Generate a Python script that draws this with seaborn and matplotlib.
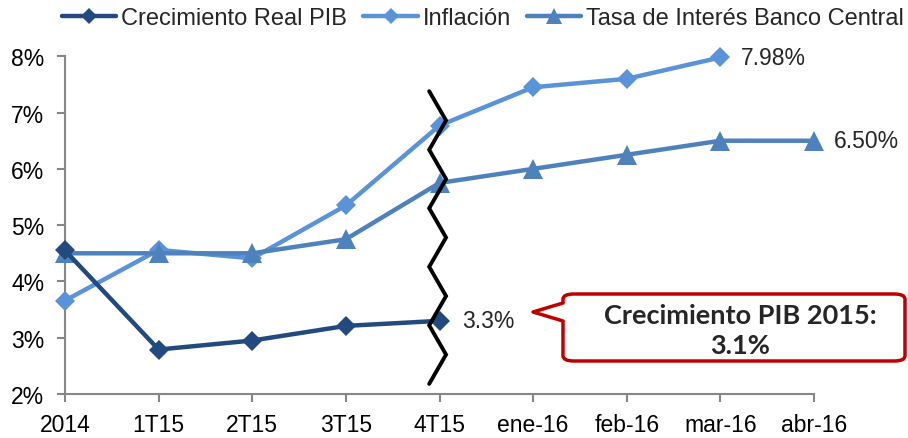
import numpy as np
import pandas as pd
import matplotlib
matplotlib.use("Agg")
import matplotlib.pyplot as plt
import seaborn as sns
from matplotlib.patches import FancyBboxPatch, Polygon
from matplotlib.lines import Line2D

categories = ["2014", "1T15", "2T15", "3T15", "4T15", "ene-16", "feb-16", "mar-16", "abr-16"]
pib = [4.55, 2.79, 2.95, 3.21, 3.30]
inflacion = [3.66, 4.56, 4.41, 5.35, 6.77, 7.45, 7.60, 7.98]
tasa = [4.50, 4.50, 4.50, 4.75, 5.75, 6.00, 6.25, 6.50, 6.50]
y_ticks = [2, 3, 4, 5, 6, 7, 8]
y_tick_labels = ["2%", "3%", "4%", "5%", "6%", "7%", "8%"]
series_names = ["Crecimiento Real PIB", "Inflación", "Tasa de Interés Banco Central"]
callout_text = "Crecimiento PIB 2015:\n3.1%"

sns.set_style("white", {"xtick.bottom": True, "ytick.left": True})
plt.rcParams["font.family"] = ["Liberation Sans", "DejaVu Sans"]

W, H = 908, 439
fig = plt.figure(figsize=(W / 100, H / 100), dpi=100)
ax = fig.add_axes([65 / W, 1 - 395 / H, (814 - 65) / W, (395 - 57.3) / H])

c_pib = "#224a7e"
c_inf = "#5a93d8"
c_tasa = "#4f81bd"

sns.lineplot(x=np.arange(len(inflacion)), y=inflacion, ax=ax, color=c_inf, lw=3.2,
             marker="D", markersize=10, markeredgewidth=0, zorder=3, clip_on=False, legend=False)
sns.lineplot(x=np.arange(len(tasa)), y=tasa, ax=ax, color=c_tasa, lw=3.2,
             marker="^", markersize=14, markeredgewidth=0, zorder=4, clip_on=False, legend=False)
sns.lineplot(x=np.arange(len(pib)), y=pib, ax=ax, color=c_pib, lw=3.2,
             marker="D", markersize=10, markeredgewidth=0, zorder=5, clip_on=False, legend=False)

ax.set_xlim(0, len(categories) - 1)
ax.set_ylim(2, 8)
ax.set_xticks(np.arange(len(categories)))
ax.set_xticklabels(categories)
ax.set_yticks(y_ticks)
ax.set_yticklabels(y_tick_labels)
ax.tick_params(axis="both", labelsize=16.5, colors="#868686", labelcolor="black",
               length=6, width=1.5, direction="out", left=True, bottom=True)
ax.tick_params(axis="x", pad=8)
ax.tick_params(axis="y", pad=9)
for s in ["top", "right"]:
    ax.spines[s].set_visible(False)
for s in ["left", "bottom"]:
    ax.spines[s].set_color("#868686")
    ax.spines[s].set_linewidth(1.5)
ax.set_xlabel("")
ax.set_ylabel("")

# legend
handles = [
    Line2D([], [], color=c_pib, lw=3.2, marker="D", markersize=8, markeredgewidth=0),
    Line2D([], [], color=c_inf, lw=3.2, marker="D", markersize=8, markeredgewidth=0),
    Line2D([], [], color=c_tasa, lw=3.2, marker="^", markersize=12, markeredgewidth=0),
]
fig.legend(handles, series_names, loc="center", bbox_to_anchor=(483 / W, 1 - 19 / H),
           bbox_transform=fig.transFigure, ncol=3, frameon=False, fontsize=17,
           handlelength=2.3, handletextpad=0.2, columnspacing=0.7, borderpad=0, borderaxespad=0)

# data labels
ax.annotate("7.98%", (7, inflacion[7]), xytext=(15, 0), textcoords="offset points",
            fontsize=16.5, va="center", ha="left", annotation_clip=False)
ax.annotate("6.50%", (8, tasa[8]), xytext=(14, 0), textcoords="offset points",
            fontsize=16.5, va="center", ha="left", annotation_clip=False)
ax.annotate("3.3%", (4, pib[4]), xytext=(16, 0), textcoords="offset points",
            fontsize=16.5, va="center", ha="left")

# break zigzag
n_seg = 10
zy = np.linspace(7.38, 2.18, n_seg + 1)
zx = np.where(np.arange(n_seg + 1) % 2 == 0, 3.89, 4.07)
ax.plot(zx, zy, color="black", lw=2.8, zorder=10, clip_on=False, solid_joinstyle="miter")

# callout
def fx(px):
    return px / W

def fy(py):
    return 1 - py / H

box = FancyBboxPatch((fx(563), fy(362)), fx(905) - fx(563), fy(295) - fy(362),
                     boxstyle="round,pad=0,rounding_size=0.012", transform=fig.transFigure,
                     facecolor="white", edgecolor="#c00000", lw=2.5, zorder=20)
fig.add_artist(box)
tri = Polygon([(fx(565), fy(304)), (fx(533), fy(313)), (fx(565), fy(322))], closed=True,
              transform=fig.transFigure, facecolor="white", edgecolor="none", zorder=21)
fig.add_artist(tri)
fig.add_artist(Line2D([fx(563), fx(533), fx(563)], [fy(304), fy(313), fy(322)],
                      transform=fig.transFigure, color="#c00000", lw=2.5, zorder=22))
fig.text(fx(740), fy(331), callout_text, ha="center", va="center", fontsize=19.5,
         fontweight="bold", family=["Lato", "DejaVu Sans"], linespacing=1.3, zorder=23)

fig.savefig("out.png", dpi=100)
